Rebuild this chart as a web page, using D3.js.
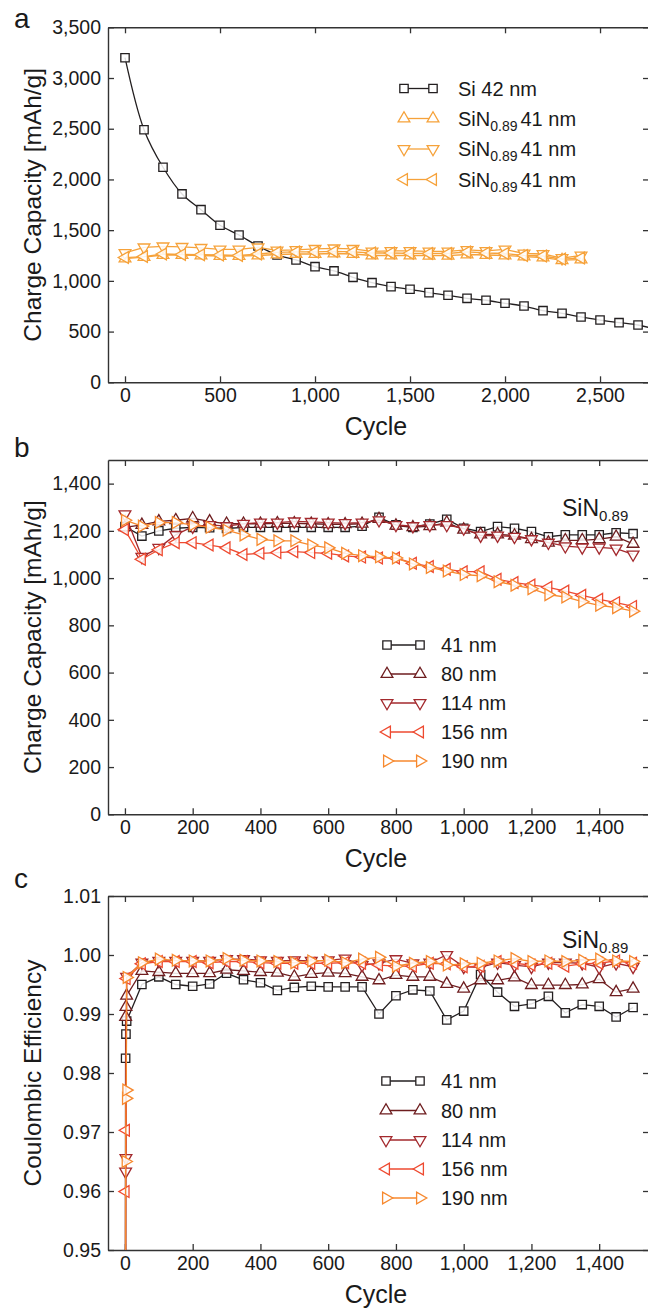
<!DOCTYPE html>
<html><head><meta charset="utf-8">
<script src="https://cdn.jsdelivr.net/npm/d3@7"></script>
<style>
html,body{margin:0;padding:0;background:#fff;}
svg{display:block;font-family:"Liberation Sans",Arial,Helvetica,sans-serif;}
</style></head>
<body>
<script>
// ---------- DATA ----------
// Panel a
const cyclesSi = [0,100,200,300,400,500,600,700,800,900,1000,1100,1200,1300,1400,1500,1600,1700,1800,1900,2000,2100,2200,2300,2400,2500,2600,2700,2800];
const capSi42 = [3200,2490,2120,1857,1702,1548,1452,1344,1255,1206,1140,1098,1035,982,943,917,884,858,828,809,779,752,706,680,644,614,588,565,520];
const cyclesSiN = [0,100,200,300,400,500,600,700,800,900,1000,1100,1200,1300,1400,1500,1600,1700,1800,1900,2000,2100,2200,2300,2400];
const capSiN41up = [1220,1235,1255,1255,1250,1245,1245,1250,1260,1265,1265,1270,1265,1250,1250,1250,1248,1248,1260,1255,1250,1240,1230,1205,1210];
const capSiN41down = [1275,1330,1340,1335,1325,1310,1310,1330,1300,1305,1315,1320,1315,1290,1295,1295,1290,1290,1305,1295,1310,1270,1265,1225,1250];
const capSiN41left = [1230,1240,1265,1260,1258,1255,1250,1265,1280,1285,1285,1290,1285,1275,1275,1272,1270,1270,1285,1275,1270,1250,1245,1215,1225];
const legendA = ["Si 42 nm","SiN0.89 41 nm","SiN0.89 41 nm","SiN0.89 41 nm"];

// Panel b
const cyclesB = [0,50,100,150,200,250,300,350,400,450,500,550,600,650,700,750,800,850,900,950,1000,1050,1100,1150,1200,1250,1300,1350,1400,1450,1500];
const capB41 = [1218,1178,1200,1211,1215,1213,1210,1215,1215,1215,1215,1215,1215,1215,1220,1257,1225,1215,1229,1249,1211,1197,1218,1211,1197,1175,1183,1183,1183,1192,1188];
const capB80 = [1215,1225,1240,1245,1253,1240,1230,1230,1230,1232,1232,1230,1228,1228,1230,1250,1222,1215,1220,1235,1205,1185,1185,1180,1165,1150,1160,1160,1165,1175,1145];
const capB114 = [1270,1090,1128,1183,1218,1225,1220,1230,1235,1235,1240,1238,1235,1233,1235,1245,1225,1220,1225,1225,1210,1180,1180,1175,1165,1150,1135,1130,1130,1125,1100];
const capB156 = [1205,1080,1120,1150,1150,1140,1128,1100,1105,1108,1112,1108,1105,1094,1089,1085,1085,1063,1049,1037,1027,1027,995,981,971,961,945,927,910,896,880];
const capB190 = [1245,1220,1235,1235,1225,1215,1203,1183,1164,1158,1158,1140,1128,1105,1095,1090,1085,1060,1045,1030,1015,1010,985,970,955,930,920,900,885,875,860];

// Panel c
const cyclesEarly = [1,2,3,5];
const cyclesEarly190 = [1,2,3,4,5];
const cyclesC = [50,100,150,200,250,300,350,400,450,500,550,600,650,700,750,800,850,900,950,1000,1050,1100,1150,1200,1250,1300,1350,1400,1450,1500];
const ceEarly41 = [0.85,0.9825,0.9866,0.9888];
const ceEarly80 = [0.85,0.9895,0.9912,0.9931];
const ceEarly114 = [0.85,0.9633,0.9656,0.9963];
const ceEarly156 = [0.85,0.9599,0.9703,0.9960];
const ceEarly190 = [0.85,0.9650,0.9757,0.9771,0.9962];
const ce41 = [0.9950,0.9963,0.9950,0.9947,0.9951,0.9969,0.9958,0.9953,0.9940,0.9945,0.9947,0.9946,0.9946,0.9946,0.9900,0.9931,0.9941,0.9939,0.9890,0.9905,0.9967,0.9937,0.9913,0.9917,0.9930,0.9902,0.9916,0.9913,0.9895,0.9911];
const ce80 = [0.9973,0.9971,0.9969,0.9969,0.9969,0.9975,0.9973,0.9971,0.9970,0.9963,0.9968,0.9970,0.9969,0.9963,0.9957,0.9966,0.9963,0.9963,0.9951,0.9943,0.9957,0.9957,0.9962,0.9949,0.9949,0.9949,0.9950,0.9959,0.9937,0.9943];
const ce114 = [0.9987,0.9990,0.9990,0.9990,0.9990,0.9993,0.9993,0.9991,0.9990,0.9991,0.9990,0.9991,0.9994,0.9983,0.9986,0.9993,0.9986,0.9987,1.0000,0.9980,0.9979,0.9987,0.9983,0.9980,0.9987,0.9987,0.9986,0.9979,0.9986,0.9980];
const ce156 = [0.9985,0.9989,0.9989,0.9989,0.9987,0.9989,0.9989,0.9987,0.9986,0.9986,0.9986,0.9986,0.9987,0.9986,0.9983,0.9981,0.9981,0.9986,0.9985,0.9980,0.9981,0.9989,0.9986,0.9983,0.9986,0.9981,0.9985,0.9986,0.9990,0.9986];
const ce190 = [0.9987,0.9993,0.9991,0.9990,0.9990,0.9994,0.9991,0.9990,0.9989,0.9987,0.9990,0.9991,0.9987,0.9993,0.9996,0.9981,0.9986,0.9989,0.9983,0.9985,0.9986,0.9990,0.9994,0.9989,0.9990,0.9989,0.9991,0.9993,0.9990,0.9989];
const legendBC = ["41 nm","80 nm","114 nm","156 nm","190 nm"];

// Ticks
const xTicksA = [0,500,1000,1500,2000,2500];
const yTicksA = [0,500,1000,1500,2000,2500,3000,3500];
const xTicksBC = [0,200,400,600,800,1000,1200,1400];
const yTicksB = [0,200,400,600,800,1000,1200,1400];
const yTicksC = [0.95,0.96,0.97,0.98,0.99,1.00,1.01];

// ---------- STYLE ----------
const black = "#231f20", orangeA = "#f6a23a";
const colB = ["#231f20","#6e1d1f","#a3292d","#ee4a30","#f7892e"];
const shapes = ["square","up","down","left","right"];

const W = 648, H = 1310;
const svg = d3.select("body").append("svg").attr("width", W).attr("height", H);

function sym(shape){
  if (shape === "square") return {p: d3.symbol(d3.symbolSquare, 70)(), r: 0};
  const tri = d3.symbol(d3.symbolTriangle, 60)();
  const r = {up:0, down:180, left:-90, right:90}[shape];
  return {p: tri, r};
}

let clipId = 0;
function panel(o){
  const x = d3.scaleLinear().domain(o.xDomain).range([108, 650]);
  const y = d3.scaleLinear().domain(o.yDomain).range([o.bottom, o.top]);
  const g = svg.append("g");
  const id = "clip" + (clipId++);
  svg.append("clipPath").attr("id", id).append("rect")
    .attr("x", 108).attr("y", o.top).attr("width", 542).attr("height", o.bottom - o.top);

  // axes
  const ax = g.append("g").attr("class","axes");
  ax.append("g").attr("transform", `translate(0,${o.bottom})`)
    .call(d3.axisBottom(x).tickValues(o.xTicks).tickFormat(d3.format(",")).tickSizeInner(-6).tickSizeOuter(0).tickPadding(6));
  ax.append("g").attr("transform", `translate(0,${o.top})`)
    .call(d3.axisTop(x).tickValues(o.xTicks).tickFormat("").tickSizeInner(-6).tickSizeOuter(0));
  ax.append("g").attr("transform", `translate(108,0)`)
    .call(d3.axisLeft(y).tickValues(o.yTicks).tickFormat(o.yFormat).tickSizeInner(-6).tickSizeOuter(0).tickPadding(7));
  ax.append("g").attr("transform", `translate(649,0)`)
    .call(d3.axisRight(y).tickValues(o.yTicks).tickFormat("").tickSizeInner(-6).tickSizeOuter(0));
  ax.selectAll(".domain").attr("stroke", "#333").attr("stroke-width", 1.4);
  ax.selectAll(".tick line").attr("stroke", "#333").attr("stroke-width", 1.3);
  ax.selectAll(".tick text").attr("font-size", 19.5).attr("fill", "#1a1a1a")
    .attr("font-family", "'Liberation Sans',Arial,sans-serif");

  // titles
  g.append("text").attr("x", 376).attr("y", o.bottom + 53).attr("text-anchor", "middle")
    .attr("font-size", 25).attr("fill", "#1a1a1a").text("Cycle");
  g.append("text").attr("transform", `translate(41,${(o.top + o.bottom)/2}) rotate(-90)`)
    .attr("text-anchor", "middle").attr("font-size", 24.5).attr("fill", "#1a1a1a").text(o.yTitle);
  g.append("text").attr("x", 14).attr("y", o.letterY).attr("font-size", 28).attr("fill", "#1a1a1a").text(o.letter);

  // series
  const data = g.append("g").attr("clip-path", `url(#${id})`);
  o.series.forEach(s => {
    const pts = s.cx.map((c, i) => [c, s.vy[i]]);
    const line = d3.line().x(d => x(d[0])).y(d => y(d[1]));
    if (s.curve) line.curve(s.curve);
    data.append("path").attr("d", line(pts)).attr("fill", "none")
      .attr("stroke", s.color).attr("stroke-width", 1.3);
    const m = sym(s.shape);
    data.selectAll(null).data(pts).enter().append("path")
      .attr("d", m.p)
      .attr("transform", d => `translate(${x(d[0])},${y(d[1])}) rotate(${m.r})`)
      .attr("fill", "#fff").attr("fill-opacity", 0.85)
      .attr("stroke", s.color).attr("stroke-width", 1.3);
  });

  // legend
  const lg = g.append("g");
  o.legend.forEach((L, i) => {
    const cy = o.legY[i];
    lg.append("line").attr("x1", o.legX0).attr("x2", o.legX1).attr("y1", cy).attr("y2", cy)
      .attr("stroke", L.color).attr("stroke-width", 1.3);
    const m = sym(L.shape);
    [o.legX0, o.legX1].forEach(px => {
      lg.append("path").attr("d", m.p).attr("transform", `translate(${px},${cy}) rotate(${m.r})`)
        .attr("fill", "#fff").attr("stroke", L.color).attr("stroke-width", 1.3);
    });
    const t = lg.append("text").attr("x", o.legTx).attr("y", cy + 7).attr("font-size", 20).attr("fill", "#1a1a1a");
    if (L.label.startsWith("SiN0.89")) {
      t.append("tspan").text("SiN");
      t.append("tspan").attr("font-size", 14).attr("dy", 5).text("0.89");
      t.append("tspan").attr("dy", -5).attr("dx", 3).text(L.label.replace("SiN0.89 ", ""));
    } else t.text(L.label);
  });

  if (o.tag) {
    const t = g.append("text").attr("x", 562).attr("y", o.tagY).attr("font-size", 23).attr("fill", "#1a1a1a");
    t.append("tspan").text("SiN");
    t.append("tspan").attr("font-size", 15).attr("dy", 5).text("0.89");
  }
}

// Panel a
panel({
  xDomain: [-89.5, 2763], yDomain: [0, 3500], top: 27.3, bottom: 382.3,
  xTicks: xTicksA, yTicks: yTicksA, yFormat: d3.format(","),
  yTitle: "Charge Capacity [mAh/g]", letter: "a", letterY: 28,
  series: [
    {cx: cyclesSi, vy: capSi42, color: black, shape: "square", curve: d3.curveCatmullRom},
    {cx: cyclesSiN, vy: capSiN41up, color: orangeA, shape: "up"},
    {cx: cyclesSiN, vy: capSiN41down, color: orangeA, shape: "down"},
    {cx: cyclesSiN, vy: capSiN41left, color: orangeA, shape: "left"}
  ],
  legend: legendA.map((l, i) => ({label: l, color: i === 0 ? black : orangeA, shape: ["square","up","down","left"][i]})),
  legY: [88.5, 118.5, 149, 179.5], legX0: 404, legX1: 433, legTx: 458
});

// Panel b
const bVals = [capB41, capB80, capB114, capB156, capB190];
panel({
  xDomain: [-50, 1550], yDomain: [0, 1500], top: 460, bottom: 814.3,
  xTicks: xTicksBC, yTicks: yTicksB, yFormat: d3.format(","),
  yTitle: "Charge Capacity [mAh/g]", letter: "b", letterY: 457,
  series: bVals.map((v, i) => ({cx: cyclesB, vy: v, color: colB[i], shape: shapes[i]})),
  legend: legendBC.map((l, i) => ({label: l, color: colB[i], shape: shapes[i]})),
  legY: [645, 674, 703, 732, 761], legX0: 387, legX1: 420, legTx: 441,
  tag: true, tagY: 516
});

// Panel c
const cEarly = [ceEarly41, ceEarly80, ceEarly114, ceEarly156, ceEarly190];
const cMain = [ce41, ce80, ce114, ce156, ce190];
panel({
  xDomain: [-50, 1550], yDomain: [0.95, 1.01], top: 896, bottom: 1250,
  xTicks: xTicksBC, yTicks: yTicksC, yFormat: d3.format(".2f"),
  yTitle: "Coulombic Efficiency", letter: "c", letterY: 888,
  series: cMain.map((v, i) => ({
    cx: (i === 4 ? cyclesEarly190 : cyclesEarly).concat(cyclesC),
    vy: cEarly[i].concat(v), color: colB[i], shape: shapes[i]})),
  legend: legendBC.map((l, i) => ({label: l, color: colB[i], shape: shapes[i]})),
  legY: [1081, 1110.5, 1140, 1169, 1198], legX0: 386, legX1: 420, legTx: 441,
  tag: true, tagY: 948
});
</script>
</body></html>
